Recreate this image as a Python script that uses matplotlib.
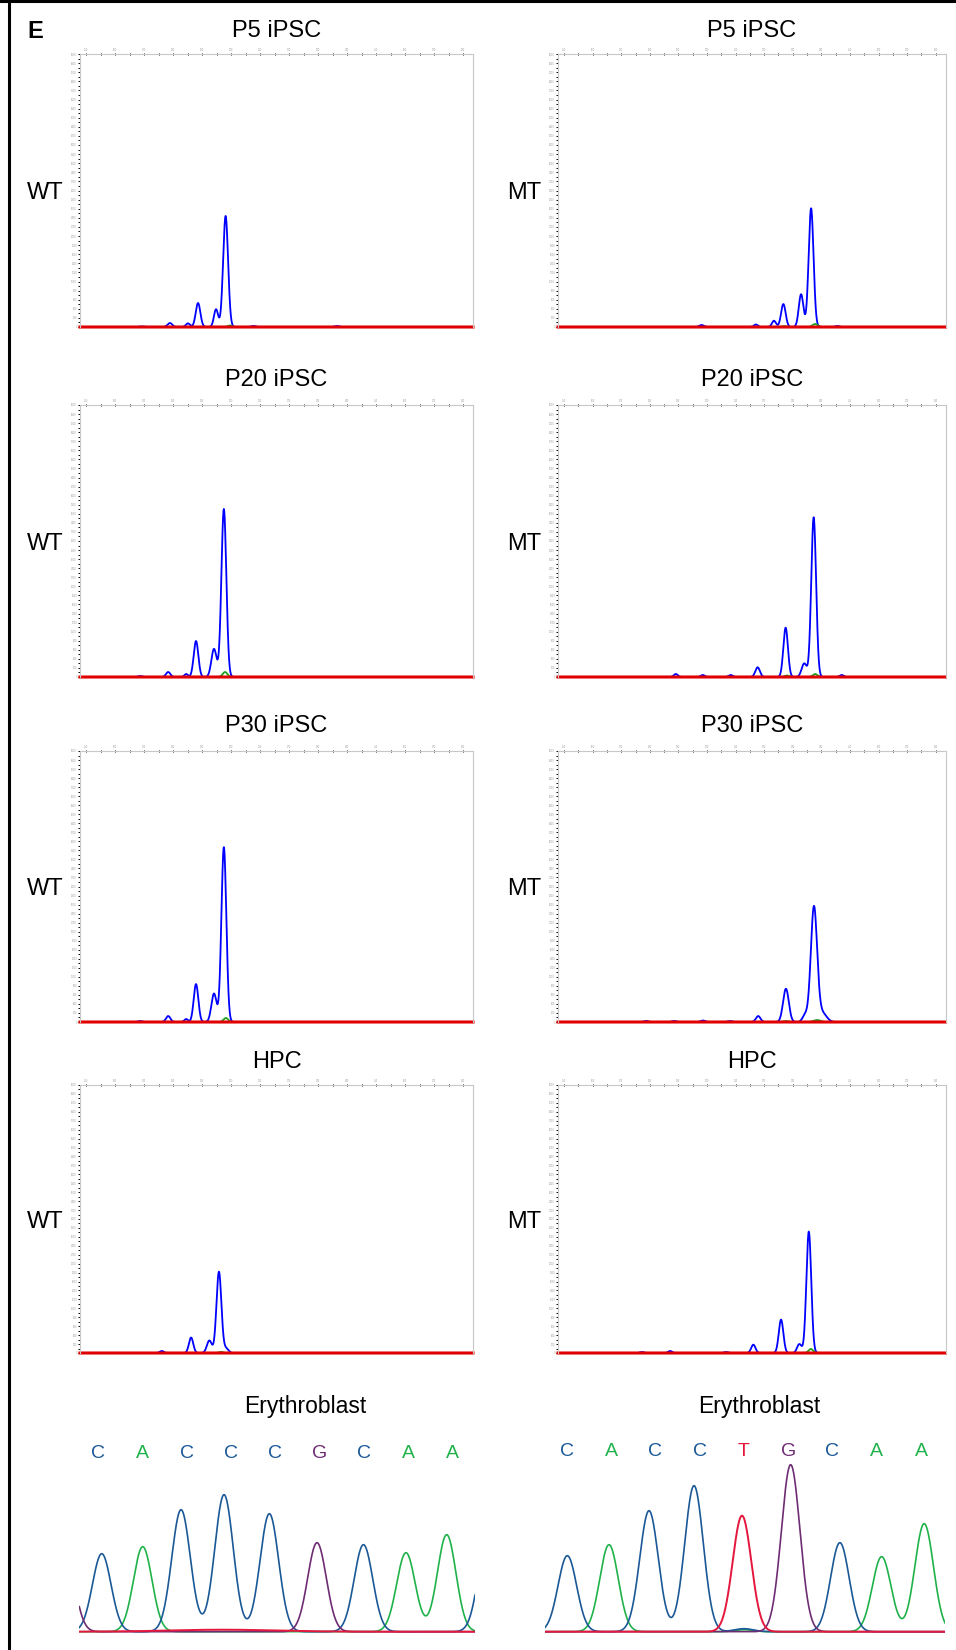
import numpy as np
import matplotlib.pyplot as plt
from matplotlib.lines import Line2D

plt.rcParams['font.family'] = ['Liberation Sans', 'DejaVu Sans']

# fragment analysis peaks: (size in bp, height in RFU, width in bp)
p5_wt_blue = [(198.1, 2440, 0.85), (188.6, 527, 0.8), (194.8, 390, 0.72), (178.9, 88, 0.8),
              (185.1, 80, 0.7), (207.6, 22, 0.8), (236.5, 22, 0.8), (169.2, 12, 0.8)]
p5_wt_green = [(199.6, 33, 0.8)]
p5_mt_blue = [(236.4, 2609, 0.85), (232.9, 720, 0.8), (226.7, 505, 0.8), (223.4, 138, 0.7),
              (217.1, 55, 0.7), (198.1, 44, 0.8), (245.5, 22, 0.7)]
p5_mt_green = [(237.8, 66, 0.9), (227.0, 20, 0.8)]

p20_wt_blue = [(197.5, 3706, 0.85), (187.9, 794, 0.8), (194.1, 620, 0.9), (178.3, 110, 0.75),
               (184.5, 66, 0.6), (168.6, 22, 0.7)]
p20_wt_green = [(197.9, 110, 0.8)]
p20_mt_blue = [(237.3, 3523, 0.85), (227.5, 1088, 0.8), (234.0, 300, 0.9), (217.7, 214, 0.8),
               (189.1, 66, 0.7), (198.5, 44, 0.7), (208.3, 44, 0.7), (247.1, 44, 0.7)]
p20_mt_green = [(237.8, 66, 0.8), (228.0, 33, 0.8)]

p30_wt_blue = [(197.5, 3870, 0.85), (187.9, 840, 0.8), (194.1, 630, 0.9), (178.3, 132, 0.75),
               (184.5, 66, 0.6), (168.6, 22, 0.7)]
p30_wt_green = [(198.2, 88, 0.8)]
p30_mt_blue = [(237.4, 2540, 1.1), (240.3, 200, 1.5), (227.6, 737, 1.0), (234.3, 150, 0.9),
               (217.9, 132, 0.8), (198.6, 33, 0.8), (208.0, 22, 0.8), (178.7, 22, 0.8),
               (188.5, 22, 0.8)]
p30_mt_green = [(238.5, 44, 1.2), (227.6, 20, 1.0)]

hpc_wt_blue = [(195.8, 1820, 0.85), (186.2, 346, 0.75), (192.5, 280, 0.85), (198.3, 100, 0.8),
               (176.1, 45, 0.7)]
hpc_wt_green = [(196.5, 25, 0.8)]
hpc_mt_blue = [(235.6, 2719, 0.85), (225.9, 748, 0.8), (216.2, 187, 0.75), (232.3, 200, 0.8),
               (187.1, 45, 0.7), (177.2, 22, 0.7), (206.6, 22, 0.7)]
hpc_mt_green = [(236.3, 90, 0.8)]

titles = ['P5 iPSC', 'P20 iPSC', 'P30 iPSC', 'HPC']
wt_blue = [p5_wt_blue, p20_wt_blue, p30_wt_blue, hpc_wt_blue]
wt_green = [p5_wt_green, p20_wt_green, p30_wt_green, hpc_wt_green]
mt_blue = [p5_mt_blue, p20_mt_blue, p30_mt_blue, hpc_mt_blue]
mt_green = [p5_mt_green, p20_mt_green, p30_mt_green, hpc_mt_green]

size_ticks = np.arange(150, 281, 10)
rfu_ticks = np.arange(0, 6001, 200)

# Sanger chromatograms: peaks as (base position, height)
wt_seq = 'CACCCGCAA'
wt_chrom = {
    'C': [(0.077, 78), (1.869, 122), (2.84, 137), (3.864, 118), (5.99, 87), (8.8, 95)],
    'A': [(1.003, 85), (6.95, 79), (7.87, 97)],
    'G': [(4.94, 89), (-0.75, 80)],
    'T': [(2.8, 2)],
}
mt_seq = 'CACCTGCAA'
mt_chrom = {
    'C': [(0.014, 76), (1.858, 121), (2.874, 146), (6.167, 89), (4.0, 3)],
    'A': [(0.955, 87), (7.11, 75), (8.07, 108), (4.0, 2)],
    'G': [(5.056, 167)],
    'T': [(3.957, 116)],
}
base_colors = {'C': '#1b5896', 'A': '#20b24a', 'G': '#6e2c73', 'T': '#e4173d'}

W, H = 956, 1650
fig = plt.figure(figsize=(W / 100, H / 100), dpi=100)


def add_ax(x0, y0, x1, y1):
    return fig.add_axes([x0 / W, 1 - y1 / H, (x1 - x0) / W, (y1 - y0) / H])


def trace(x, peaks, default_w=None):
    y = np.zeros_like(x)
    for p in peaks:
        pos, h = p[0], p[1]
        w = p[2] if len(p) > 2 else default_w
        y += h * np.exp(-0.5 * ((x - pos) / w) ** 2)
    return y


def electropherogram(ax, blue, green):
    x = np.linspace(147.9, 283.4, 3000)
    ax.plot(x, trace(x, blue), color='#0000ff', lw=1.3, clip_on=False)
    ax.plot(x, trace(x, green), color='#1fa01f', lw=1.3, clip_on=False)
    ax.plot(x, np.zeros_like(x), color='#e00000', lw=2.2, clip_on=False)
    ax.set_xlim(147.9, 283.4)
    ax.set_ylim(0, 6000)
    ax.xaxis.tick_top()
    ax.set_xticks(size_ticks)
    ax.set_xticks(np.arange(155, 281, 10), minor=True)
    ax.set_yticks(rfu_ticks)
    ax.set_yticks(np.arange(100, 6000, 200), minor=True)
    ax.tick_params(axis='x', which='both', direction='inout', length=1.8, width=0.7,
                   labelsize=1.8, labelcolor='#a0a0a0', pad=0.5, color='k')
    ax.tick_params(axis='y', which='both', direction='out', length=1.6, width=0.7,
                   labelsize=1.8, labelcolor='#a0a0a0', pad=0.5, color='k')
    for s in ['top', 'right', 'left']:
        ax.spines[s].set_color('#c8c8c8')
        ax.spines[s].set_linewidth(0.8)
    ax.spines['bottom'].set_visible(False)


rows = [(54, 327), (405, 677), (751, 1022), (1085, 1353)]
title_y = [31, 380, 726, 1062]
cols = [(80, 473), (558, 945.5)]

for i, (y0, y1) in enumerate(rows):
    for j, (x0, x1) in enumerate(cols):
        ax = add_ax(x0, y0, x1, y1)
        if j == 0:
            electropherogram(ax, wt_blue[i], wt_green[i])
        else:
            electropherogram(ax, mt_blue[i], mt_green[i])
        fig.text((x0 + x1) / 2 / W, 1 - title_y[i] / H, titles[i], ha='center', va='center',
                 fontsize=17)
    ymid = (y0 + y1) / 2 + 2.5
    fig.text(45.5 / W, 1 - ymid / H, 'WT', ha='center', va='center', fontsize=17)
    fig.text(524 / W, 1 - ymid / H, 'MT', ha='center', va='center', fontsize=17)


def chromatogram(ax, chrom, seq, xlim, letter_y):
    x = np.linspace(xlim[0], xlim[1], 2000)
    for b in ['A', 'C', 'G']:
        ax.plot(x, trace(x, chrom[b], 0.21), color=base_colors[b], lw=1.2)
    red_w = [1.2 if h < 10 else 0.21 for _, h in chrom['T']]
    red = np.zeros_like(x)
    for (pos, h), w in zip(chrom['T'], red_w):
        red += h * np.exp(-0.5 * ((x - pos) / w) ** 2)
    ax.plot(x, red, color=base_colors['T'], lw=1.4)
    for k, b in enumerate(seq):
        ax.text(k, letter_y, b, color=base_colors[b], ha='center', va='center', fontsize=14)
    ax.set_xlim(*xlim)
    ax.set_ylim(-8.3, 191.7)
    ax.axis('off')


axl = add_ax(79.3, 1440, 475, 1640)
chromatogram(axl, wt_chrom, wt_seq, (-0.43, 8.51), 178.7)
axr = add_ax(545, 1440, 945, 1640)
chromatogram(axr, mt_chrom, mt_seq, (-0.49, 8.54), 180.5)
fig.text(305.7 / W, 1 - 1406 / H, 'Erythroblast', ha='center', va='center', fontsize=16.5)
fig.text(759 / W, 1 - 1406 / H, 'Erythroblast', ha='center', va='center', fontsize=16.5)

fig.text(35 / W, 1 - 31 / H, 'E', ha='center', va='center', fontsize=17, fontweight='bold')
fig.add_artist(Line2D([8.5 / W, 8.5 / W], [0, 1], color='k', lw=2.2))
fig.add_artist(Line2D([0, 1], [1 - 1 / H, 1 - 1 / H], color='k', lw=2.2))

fig.savefig('out.png', dpi=100)
